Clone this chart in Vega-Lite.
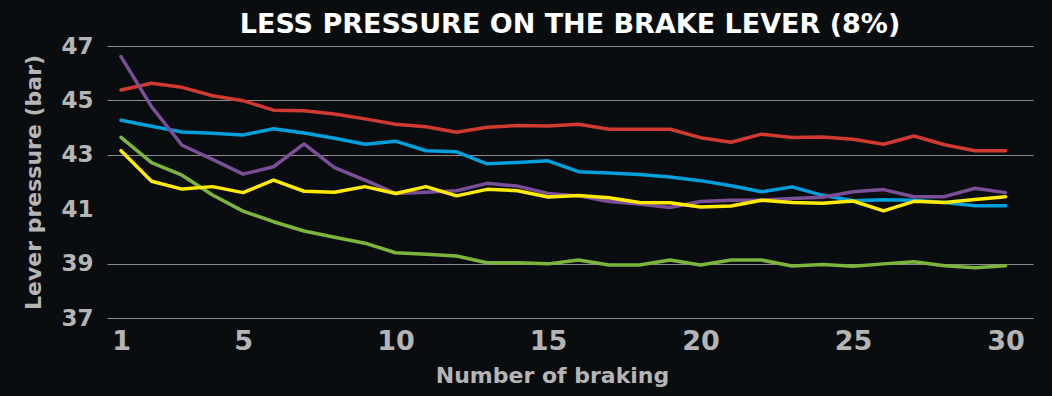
{
  "$schema": "https://vega.github.io/schema/vega-lite/v6.json",
  "width": 926,
  "height": 272,
  "autosize": {"type": "none"},
  "padding": {"left": 107, "top": 46, "right": 19, "bottom": 78},
  "background": "#0a0d10",
  "title": {
    "text": "LESS PRESSURE ON THE BRAKE LEVER (8%)",
    "color": "#ffffff",
    "font": "DejaVu Sans",
    "fontSize": 27,
    "fontWeight": "bold",
    "anchor": "middle",
    "frame": "group",
    "baseline": "alphabetic",
    "offset": 12,
    "dy": 37
  },
  "data": {
    "values": [
      {"n": 1, "Series 1": 45.38, "Series 2": 44.27, "Series 3": 43.64, "Series 4": 46.61, "Series 5": 43.15},
      {"n": 2, "Series 1": 45.63, "Series 2": 44.05, "Series 3": 42.71, "Series 4": 44.77, "Series 5": 42.03},
      {"n": 3, "Series 1": 45.48, "Series 2": 43.84, "Series 3": 42.25, "Series 4": 43.35, "Series 5": 41.74},
      {"n": 4, "Series 1": 45.17, "Series 2": 43.79, "Series 3": 41.52, "Series 4": 42.83, "Series 5": 41.83},
      {"n": 5, "Series 1": 44.99, "Series 2": 43.73, "Series 3": 40.93, "Series 4": 42.29, "Series 5": 41.61},
      {"n": 6, "Series 1": 44.64, "Series 2": 43.96, "Series 3": 40.54, "Series 4": 42.56, "Series 5": 42.07},
      {"n": 7, "Series 1": 44.62, "Series 2": 43.80, "Series 3": 40.20, "Series 4": 43.40, "Series 5": 41.66},
      {"n": 8, "Series 1": 44.50, "Series 2": 43.61, "Series 3": 39.97, "Series 4": 42.53, "Series 5": 41.62},
      {"n": 9, "Series 1": 44.32, "Series 2": 43.39, "Series 3": 39.75, "Series 4": 42.07, "Series 5": 41.83},
      {"n": 10, "Series 1": 44.12, "Series 2": 43.50, "Series 3": 39.40, "Series 4": 41.58, "Series 5": 41.58},
      {"n": 11, "Series 1": 44.03, "Series 2": 43.15, "Series 3": 39.34, "Series 4": 41.62, "Series 5": 41.83},
      {"n": 12, "Series 1": 43.83, "Series 2": 43.11, "Series 3": 39.28, "Series 4": 41.68, "Series 5": 41.49},
      {"n": 13, "Series 1": 44.01, "Series 2": 42.67, "Series 3": 39.03, "Series 4": 41.95, "Series 5": 41.73},
      {"n": 14, "Series 1": 44.08, "Series 2": 42.72, "Series 3": 39.03, "Series 4": 41.85, "Series 5": 41.68},
      {"n": 15, "Series 1": 44.06, "Series 2": 42.78, "Series 3": 38.99, "Series 4": 41.58, "Series 5": 41.45},
      {"n": 16, "Series 1": 44.12, "Series 2": 42.38, "Series 3": 39.13, "Series 4": 41.49, "Series 5": 41.50},
      {"n": 17, "Series 1": 43.94, "Series 2": 42.33, "Series 3": 38.95, "Series 4": 41.28, "Series 5": 41.42},
      {"n": 18, "Series 1": 43.94, "Series 2": 42.28, "Series 3": 38.95, "Series 4": 41.19, "Series 5": 41.25},
      {"n": 19, "Series 1": 43.94, "Series 2": 42.18, "Series 3": 39.13, "Series 4": 41.06, "Series 5": 41.24},
      {"n": 20, "Series 1": 43.63, "Series 2": 42.05, "Series 3": 38.95, "Series 4": 41.28, "Series 5": 41.08},
      {"n": 21, "Series 1": 43.46, "Series 2": 41.86, "Series 3": 39.13, "Series 4": 41.33, "Series 5": 41.12},
      {"n": 22, "Series 1": 43.76, "Series 2": 41.64, "Series 3": 39.13, "Series 4": 41.34, "Series 5": 41.33},
      {"n": 23, "Series 1": 43.64, "Series 2": 41.82, "Series 3": 38.91, "Series 4": 41.39, "Series 5": 41.25},
      {"n": 24, "Series 1": 43.65, "Series 2": 41.51, "Series 3": 38.97, "Series 4": 41.44, "Series 5": 41.22},
      {"n": 25, "Series 1": 43.57, "Series 2": 41.31, "Series 3": 38.90, "Series 4": 41.64, "Series 5": 41.30},
      {"n": 26, "Series 1": 43.39, "Series 2": 41.35, "Series 3": 38.99, "Series 4": 41.72, "Series 5": 40.94},
      {"n": 27, "Series 1": 43.69, "Series 2": 41.33, "Series 3": 39.07, "Series 4": 41.46, "Series 5": 41.29},
      {"n": 28, "Series 1": 43.37, "Series 2": 41.25, "Series 3": 38.92, "Series 4": 41.46, "Series 5": 41.25},
      {"n": 29, "Series 1": 43.15, "Series 2": 41.13, "Series 3": 38.85, "Series 4": 41.77, "Series 5": 41.36},
      {"n": 30, "Series 1": 43.15, "Series 2": 41.13, "Series 3": 38.92, "Series 4": 41.61, "Series 5": 41.46}
    ]
  },
  "transform": [
    {"fold": ["Series 3", "Series 1", "Series 2", "Series 4", "Series 5"], "as": ["series", "pressure"]}
  ],
  "mark": {"type": "line", "strokeWidth": 3.5, "strokeCap": "round", "strokeJoin": "round"},
  "encoding": {
    "x": {
      "field": "n",
      "type": "quantitative",
      "scale": {"domain": [0.54, 30.9], "nice": false, "zero": false},
      "axis": {
        "values": [1, 5, 10, 15, 20, 25, 30],
        "title": "Number of braking",
        "domain": false,
        "ticks": false,
        "grid": false,
        "labelFont": "DejaVu Sans",
        "labelFontWeight": "bold",
        "labelFontSize": 27,
        "labelColor": "#b5b5b5",
        "labelPadding": 10,
        "labelFlush": false,
        "titleFont": "DejaVu Sans",
        "titleFontWeight": "bold",
        "titleFontSize": 22,
        "titleColor": "#b5b5b5",
        "titleBaseline": "middle",
        "titleX": 445,
        "titleY": 57
      }
    },
    "y": {
      "field": "pressure",
      "type": "quantitative",
      "scale": {"domain": [37, 47], "nice": false, "zero": false},
      "axis": {
        "values": [37, 39, 41, 43, 45, 47],
        "title": "Lever pressure (bar)",
        "domain": false,
        "ticks": false,
        "grid": true,
        "gridColor": "#8a8a8a",
        "gridWidth": 1,
        "gridOpacity": {"condition": {"test": "datum.value === 41", "value": 0}, "value": 1},
        "labelFont": "DejaVu Sans",
        "labelFontWeight": "bold",
        "labelFontSize": 23,
        "labelColor": "#b5b5b5",
        "labelPadding": 14,
        "labelFlush": false,
        "titleFont": "DejaVu Sans",
        "titleFontWeight": "bold",
        "titleFontSize": 22,
        "titleColor": "#b5b5b5",
        "titleAngle": -90,
        "titleBaseline": "middle",
        "titleAlign": "center",
        "titleX": -74,
        "titleY": 136
      }
    },
    "color": {
      "field": "series",
      "type": "nominal",
      "scale": {
        "domain": ["Series 1", "Series 2", "Series 3", "Series 4", "Series 5"],
        "range": ["#d13a30", "#00a0dc", "#7db43c", "#7b4f97", "#ffeb00"]
      },
      "legend": null
    }
  },
  "config": {"view": {"stroke": null}}
}
